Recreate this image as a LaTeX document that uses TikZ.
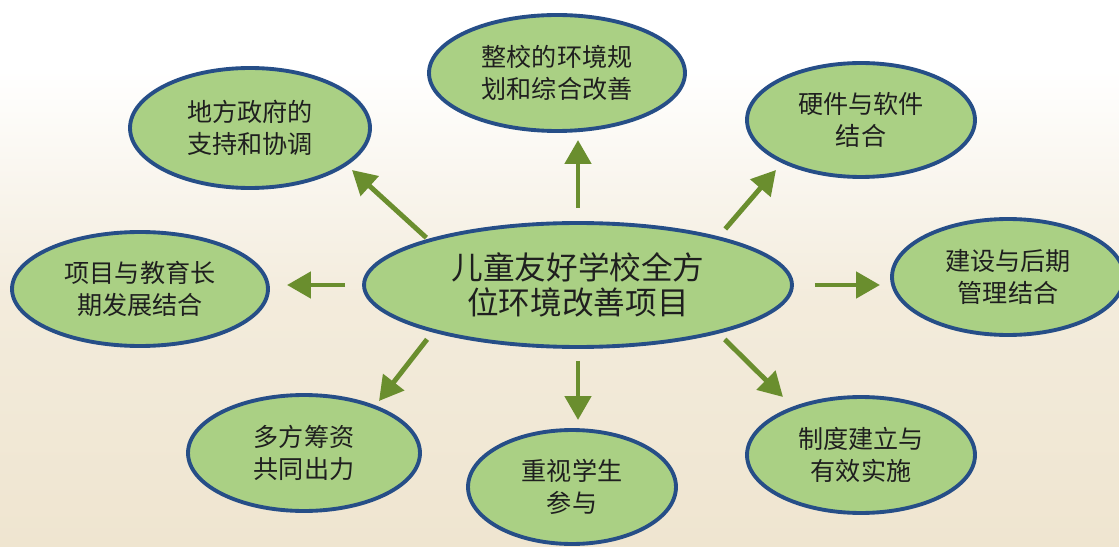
\documentclass[tikz,border=0pt]{standalone}
\usepackage{fontspec}
\setmainfont{Noto Sans CJK SC}
\usetikzlibrary{arrows.meta,shapes.geometric}
\definecolor{leafgreen}{RGB}{170,208,132}
\definecolor{rimblue}{RGB}{38,78,135}
\definecolor{arrowgreen}{RGB}{106,142,46}
\definecolor{paper}{RGB}{239,229,208}

\begin{document}
\begin{tikzpicture}[x=0.02cm, y=-0.02cm,
        bubble/.style={ellipse, draw=rimblue, line width=2.2pt, fill=leafgreen, inner sep=0pt,
            align=center, text=black!88, font=\fontsize{14.3}{18.5}\selectfont},
        pointer/.style={draw=arrowgreen, line width=2.8pt, -{Triangle[length=0.48cm, width=0.52cm]}}]
        \useasboundingbox (0,0) rectangle (1119,547);
        \fill[white] (0,0) rectangle (1119,547);
        \shade[top color=white, bottom color=paper!75!white] (0,70) rectangle (1119,300);
        \shade[top color=paper!75!white, bottom color=paper] (0,300) rectangle (1119,547);

        \node[bubble, minimum width=8.56cm, minimum height=2.48cm, font=\fontsize{18}{19.5}\selectfont] (hub) at (578,285) {儿童友好学校全方\\位环境改善项目};

        \node[bubble, minimum width=4.8cm, minimum height=2.4cm] (s1) at (250,128) {地方政府的\\支持和协调};
        \node[bubble, minimum width=5.12cm, minimum height=2.32cm] (s2) at (557,73) {整校的环境规\\划和综合改善};
        \node[bubble, minimum width=4.56cm, minimum height=2.28cm] (s3) at (861,120) {硬件与软件\\结合};
        \node[bubble, minimum width=5.12cm, minimum height=2.28cm] (s4) at (140,289) {项目与教育长\\期发展结合};
        \node[bubble, minimum width=4.64cm, minimum height=2.32cm] (s5) at (1008,277) {建设与后期\\管理结合};
        \node[bubble, minimum width=4.64cm, minimum height=2.32cm] (s6) at (304,453) {多方筹资\\共同出力};
        \node[bubble, minimum width=4.16cm, minimum height=2.28cm] (s7) at (572,487) {重视学生\\参与};
        \node[bubble, minimum width=4.56cm, minimum height=2.32cm] (s8) at (861,455) {制度建立与\\有效实施};

        \coordinate (t1) at (352,170);
        \coordinate (t2) at (578,140);
        \coordinate (t3) at (776,170);
        \coordinate (t4) at (287,285);
        \coordinate (t5) at (880,285);
        \coordinate (t6) at (379,401);
        \coordinate (t7) at (578,420);
        \coordinate (t8) at (783,397);

        \draw[pointer, shorten <=0.04cm] (hub.163) -- (t1);
        \draw[pointer, shorten <=0.26cm] (hub.north) -- (t2);
        \draw[pointer, shorten <=0.2cm] (hub.19) -- (t3);
        \draw[pointer, shorten <=0.34cm] (hub.west) -- (t4);
        \draw[pointer, shorten <=0.42cm] (hub.east) -- (t5);
        \draw[pointer, shorten <=0.18cm] (hub.198) -- (t6);
        \draw[pointer, shorten <=0.24cm] (hub.south) -- (t7);
        \draw[pointer, shorten <=0.17cm] (hub.341) -- (t8);
    \end{tikzpicture}
\end{document}
